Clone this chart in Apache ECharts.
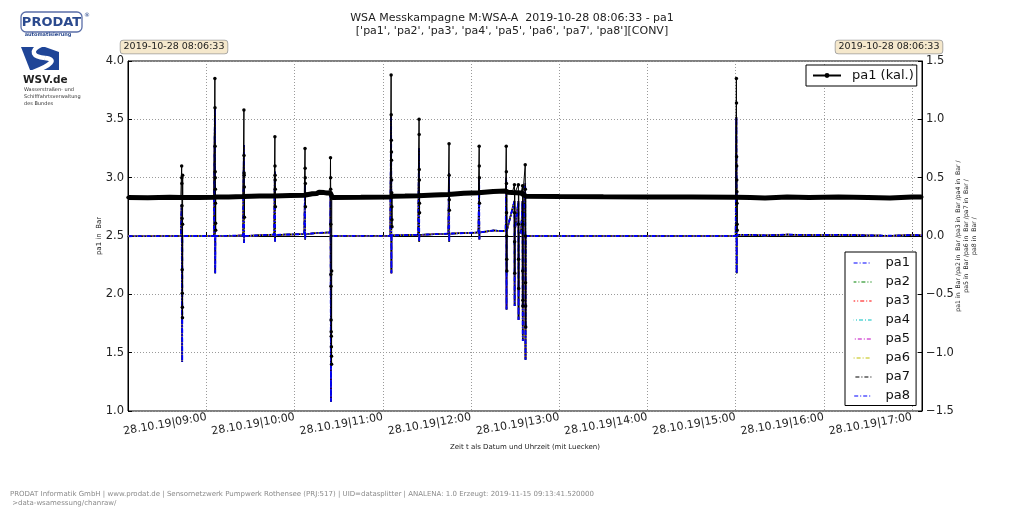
<!DOCTYPE html>
<html><head><meta charset="utf-8">
<script src="https://cdn.jsdelivr.net/npm/echarts@6/dist/echarts.min.js"></script>
<style>html,body{margin:0;padding:0;background:#fff}#c{width:1024px;height:514px}</style>
</head><body><div id="c"></div>
<script>
const DAY = '2019-10-28';
const FONT = 'DejaVu Sans';
const titleLines = ['WSA Messkampagne M:WSA-A  2019-10-28 08:06:33 - pa1', "['pa1', 'pa2', 'pa3', 'pa4', 'pa5', 'pa6', 'pa7', 'pa8'][CONV]"];
const stampText = '2019-10-28 08:06:33';
const xAxisName = 'Zeit t als Datum und Uhrzeit (mit Luecken)';
const leftAxisName = 'pa1 in  Bar';
const rightAxisName = 'pa1 in  Bar /pa2 in  Bar /pa3 in  Bar /pa4 in  Bar /\npa5 in  Bar /pa6 in  Bar /pa7 in  Bar /\npa8 in  Bar /';
const footerLines = ['PRODAT Informatik GmbH | www.prodat.de | Sensornetzwerk Pumpwerk Rothensee (PRJ:517) | UID=datasplitter | ANALENA: 1.0 Erzeugt: 2019-11-15 09:13:41.520000', ' >data-wsamessung/chanraw/'];
const xRange = ['08:06:33', '17:06:48'];
const leftTicks = [1.0, 4.0, 0.5];
const rightTicks = [-1.5, 1.5, 0.5];
const kalName = 'pa1 (kal.)';
const paNames = ['pa1', 'pa2', 'pa3', 'pa4', 'pa5', 'pa6', 'pa7', 'pa8'];
const paColors = ['#0000ff', '#008000', '#ff0000', '#00bfbf', '#bf00bf', '#bfbf00', '#000000', '#0000ff'];
const sampleStepSec = 4;

// pa1 (kal.) baseline, left axis [Bar]
const kalBase = [
  ['08:06:33', 2.83], ['08:20:00', 2.828], ['08:35:00', 2.832], ['08:42:30', 2.83],
  ['08:44:00', 2.83], ['08:55:00', 2.83], ['09:05:00', 2.832],
  ['09:06:30', 2.835], ['09:15:00', 2.835], ['09:24:50', 2.838],
  ['09:26:00', 2.84], ['09:36:00', 2.842], ['09:46:00', 2.842],
  ['09:47:10', 2.845], ['09:57:00', 2.847], ['10:06:30', 2.85],
  ['10:07:40', 2.86], ['10:12:00', 2.862], ['10:15:00', 2.865], ['10:16:30', 2.875], ['10:20:00', 2.872], ['10:22:00', 2.868], ['10:24:10', 2.87],
  ['10:25:40', 2.83], ['10:45:00', 2.832], ['11:05:00', 2.835],
  ['11:06:40', 2.84], ['11:15:00', 2.842], ['11:24:00', 2.845],
  ['11:25:20', 2.85], ['11:35:00', 2.852], ['11:44:30', 2.855],
  ['11:45:40', 2.865], ['11:55:00', 2.867], ['12:05:00', 2.87],
  ['12:06:10', 2.88], ['12:15:00', 2.882], ['12:23:30', 2.885],
  ['12:25:00', 2.875], ['12:28:00', 2.872], ['12:31:00', 2.87], ['12:34:00', 2.868],
  ['12:37:30', 2.84], ['13:00:00', 2.838], ['13:30:00', 2.836], ['14:00:00', 2.835], ['14:30:00', 2.835], ['15:00:00', 2.833],
  ['15:01:20', 2.835], ['15:10:00', 2.83], ['15:20:00', 2.825], ['15:35:00', 2.835], ['15:50:00', 2.83], ['16:10:00', 2.835],
  ['16:30:00', 2.83], ['16:45:00', 2.825], ['17:00:00', 2.835], ['17:06:40', 2.835]
];
// pa1 (kal.) spike events: [start time, samples]
const kalSpikes = [
  ['08:43:00', [2.83, 3.10, 3.0, 2.95, 2.76, 2.65, 2.21, 2.01, 1.89, 1.80, 2.6, 3.02, 2.83]],
  ['09:05:40', [3.85, 3.60, 3.27, 3.05, 3.0, 2.9, 2.78, 2.61, 2.55, 2.83]],
  ['09:25:25', [3.58, 3.19, 3.04, 3.02, 2.92, 2.66, 2.83]],
  ['09:46:30', [3.35, 3.10, 3.02, 2.98, 2.90, 2.75, 2.84]],
  ['10:07:00', [3.25, 3.08, 3.0, 2.95, 2.75, 2.85]],
  ['10:24:20', [3.17, 3.0, 2.9, 2.6, 2.17, 2.07, 1.78, 1.68, 1.64, 1.55, 1.47, 1.40, 2.2, 2.83]],
  ['11:05:35', [3.88, 3.54, 3.32, 3.22, 3.15, 2.98, 2.87, 2.75, 2.64, 2.58, 2.84]],
  ['11:24:35', [3.50, 3.37, 3.07, 2.98, 2.78, 2.70, 2.85]],
  ['11:45:00', [3.29, 3.02, 2.81, 2.72, 2.86]],
  ['12:05:30', [3.27, 3.10, 3.0, 2.78, 2.88]],
  ['12:23:55', [3.27, 3.05, 2.95, 2.7, 2.5, 2.3, 2.2, 2.88]],
  ['12:29:30', [2.94, 2.7, 2.45, 2.18, 2.87]],
  ['12:32:10', [2.94, 2.6, 2.3, 2.05, 2.87]],
  ['12:35:00', [2.93, 2.6, 2.2, 1.9, 1.95, 2.87]],
  ['12:36:50', [3.11, 2.9, 2.5, 2.1, 1.9, 1.72, 2.84]],
  ['15:00:30', [3.85, 3.64, 3.18, 3.10, 2.98, 2.88, 2.78, 2.60, 2.55, 2.83]]
];
// pa1..pa8 baseline, right axis [Bar]
const paBase = [
  ['08:06:33', -0.002], ['08:42:30', 0.0], ['08:44:00', 0.0], ['09:05:00', 0.0],
  ['09:06:30', 0.002], ['09:24:50', 0.004], ['09:26:00', 0.01], ['09:46:00', 0.012],
  ['09:47:10', 0.014], ['10:06:30', 0.016], ['10:07:40', 0.025], ['10:16:00', 0.027],
  ['10:16:30', 0.033], ['10:24:10', 0.03], ['10:25:40', 0.0], ['11:05:00', 0.002],
  ['11:06:40', 0.007], ['11:24:00', 0.01], ['11:25:20', 0.016], ['11:44:30', 0.02],
  ['11:45:40', 0.028], ['12:05:00', 0.03], ['12:06:10', 0.045], ['12:15:00', 0.047],
  ['12:23:30', 0.042], ['12:25:00', 0.035], ['12:31:00', 0.03], ['12:34:00', 0.025],
  ['12:37:30', 0.002], ['13:30:00', 0.0], ['14:30:00', 0.0], ['15:00:00', 0.0],
  ['15:01:20', 0.015], ['15:10:00', 0.01], ['15:20:00', 0.005], ['15:35:00', 0.012],
  ['15:50:00', 0.008], ['16:10:00', 0.01], ['16:30:00', 0.005], ['16:45:00', 0.002],
  ['17:00:00', 0.008], ['17:06:40', 0.006]
];
const paSpikes = [
  ['08:43:00', [0.0, 0.27, 0.1, -0.2, -0.5, -0.75, -0.9, -1.08, 0.0]],
  ['09:05:40', [1.10, 0.6, 0.2, -0.1, -0.32, 0.0]],
  ['09:25:25', [0.78, 0.3, -0.06, 0.0]],
  ['09:46:30', [0.55, 0.2, -0.05, 0.01]],
  ['10:07:00', [0.45, 0.1, -0.03, 0.015]],
  ['10:24:20', [0.35, 0.0, -0.4, -0.8, -1.1, -1.42, 0.0]],
  ['11:05:35', [1.04, 0.6, 0.1, -0.32, 0.005]],
  ['11:24:35', [0.75, 0.3, -0.05, 0.01]],
  ['11:45:00', [0.54, 0.2, -0.05, 0.02]],
  ['12:05:30', [0.5, 0.15, -0.03, 0.03]],
  ['12:23:55', [0.5, 0.1, -0.3, -0.63, 0.04]],
  ['12:29:30', [0.3, -0.2, -0.6, 0.03]],
  ['12:32:10', [0.3, -0.3, -0.72, 0.03]],
  ['12:35:00', [0.3, -0.4, -0.9, 0.02]],
  ['12:36:50', [0.45, -0.3, -0.8, -1.06, 0.0]],
  ['15:00:30', [1.02, 0.5, 0.1, -0.32, 0.01]]
];

function T(hms) { return new Date(DAY + 'T' + hms).getTime(); }
function buildSeries(base, spikes) {
  const pts = base.map(p => [T(p[0]), p[1]]);
  spikes.forEach(s => {
    const t0 = T(s[0]);
    s[1].forEach((v, i) => pts.push([t0 + i * sampleStepSec * 1000, v]));
  });
  pts.sort((a, b) => a[0] - b[0]);
  return pts;
}
const kalData = buildSeries(kalBase, kalSpikes);
const kalBandData = kalBase.map(p => [T(p[0]), p[1]]);
const paData = buildSeries(paBase, paSpikes);
function pad(n) { return (n < 10 ? '0' : '') + n; }
function fmtNum(v) { return v < 0 ? '\u2212' + Math.abs(v).toFixed(1) : v.toFixed(1); }

const chart = echarts.init(document.getElementById('c'), null, { renderer: 'canvas' });

const series = [];
paNames.forEach((n, i) => {
  series.push({
    name: n, type: 'line', yAxisIndex: 1, data: paData, symbol: 'none',
    lineStyle: { width: i === 7 ? 1.8 : 1.5, color: paColors[i], type: [4, 2, 1, 2], dashOffset: i * 1.2 },
    itemStyle: { color: paColors[i] }, animation: false, z: 2 + i
  });
});
series.push({
  name: 'kalBand', type: 'line', yAxisIndex: 0, data: kalBandData, symbol: 'none',
  lineStyle: { width: 5, color: '#000' }, silent: true, animation: false, z: 11
});
series.push({
  name: kalName, type: 'line', yAxisIndex: 0, data: kalData, symbol: 'circle', symbolSize: 3.5,
  showAllSymbol: true, lineStyle: { width: 1, color: '#000' }, itemStyle: { color: '#000' }, animation: false, z: 12
});

const stampStyle = (x) => ({
  type: 'text', x: x, y: 47, z: 100,
  style: { text: stampText, fontSize: 9.5, fontFamily: FONT, fill: '#222', align: 'center', verticalAlign: 'middle',
    backgroundColor: '#f5e8cc', borderColor: '#9a9a9a', borderWidth: 0.8, borderRadius: 3, padding: [2, 3, 1, 3] }
});

chart.setOption({
  backgroundColor: '#fff',
  animation: false,
  title: {
    text: titleLines.join('\n'), left: 'center', top: 7,
    textStyle: { fontSize: 11, fontWeight: 'normal', color: '#222', lineHeight: 12.5, fontFamily: FONT }
  },
  grid: { left: 128, right: 102, top: 61, bottom: 103, show: true, borderColor: '#000', borderWidth: 1, backgroundColor: 'transparent' },
  legend: [
    {
      data: [kalName], orient: 'vertical', left: 806, top: 65,
      backgroundColor: '#fff', borderColor: '#000', borderWidth: 1, borderRadius: 0,
      padding: [4, 3, 4, 6], itemWidth: 28, itemHeight: 6,
      textStyle: { fontSize: 13, fontFamily: FONT, color: '#111', padding: [0, 0, 0, 6] }
    },
    {
      data: paNames, orient: 'vertical', left: 845, top: 252,
      backgroundColor: '#fff', borderColor: '#000', borderWidth: 1, borderRadius: 0,
      padding: [4.5, 6, 3, 8], itemWidth: 18, itemHeight: 13, itemGap: 6,
      itemStyle: { opacity: 0 },
      lineStyle: { width: 1.2 },
      textStyle: { fontSize: 13, fontFamily: FONT, color: '#111', lineHeight: 13, padding: [0, 0, 0, 9] }
    }
  ],
  xAxis: {
    type: 'time', min: T(xRange[0]), max: T(xRange[1]),
    minInterval: 3600000, maxInterval: 3600000,
    name: xAxisName, nameLocation: 'middle', nameGap: 33,
    nameTextStyle: { fontSize: 7, color: '#222', fontFamily: FONT },
    axisLine: { show: true, lineStyle: { color: '#000', width: 1 } },
    axisTick: { show: true, inside: true, length: 4, lineStyle: { color: '#000' } },
    axisLabel: {
      rotate: 10, fontSize: 11, color: '#222', fontFamily: FONT, margin: 6,
      showMinLabel: false, showMaxLabel: false,
      formatter: function (v) {
        const d = new Date(v);
        return pad(d.getDate()) + '.' + pad(d.getMonth() + 1) + '.' + String(d.getFullYear()).slice(2) + '|' + pad(d.getHours()) + ':' + pad(d.getMinutes());
      }
    },
    splitLine: { show: true, lineStyle: { type: [1, 2], color: '#9a9a9a', width: 1 } }
  },
  yAxis: [
    {
      type: 'value', position: 'left', min: leftTicks[0], max: leftTicks[1], interval: leftTicks[2],
      name: leftAxisName, nameLocation: 'middle', nameGap: 25, nameRotate: 90, nameMoveOverlap: false,
      nameTextStyle: { fontSize: 7, color: '#222', fontFamily: FONT },
      axisLine: { show: true, lineStyle: { color: '#000', width: 1 } },
      axisTick: { show: true, inside: true, length: 4, lineStyle: { color: '#000' } },
      axisLabel: { fontSize: 11.5, color: '#222', fontFamily: FONT, margin: 4, formatter: fmtNum },
      splitLine: { show: true, lineStyle: { type: [1, 2], color: '#9a9a9a', width: 1 } }
    },
    {
      type: 'value', position: 'right', min: rightTicks[0], max: rightTicks[1], interval: rightTicks[2],
      name: rightAxisName, nameLocation: 'middle', nameGap: 32, nameRotate: 90, nameMoveOverlap: false,
      nameTextStyle: { fontSize: 6.2, color: '#222', fontFamily: FONT, lineHeight: 8, align: 'center' },
      axisLine: { show: true, lineStyle: { color: '#000', width: 1 } },
      axisTick: { show: true, inside: true, length: 4, lineStyle: { color: '#000' } },
      axisLabel: { fontSize: 11.5, color: '#222', fontFamily: FONT, margin: 4, formatter: fmtNum },
      splitLine: { show: false }
    }
  ],
  series: series,
  graphic: [
    stampStyle(174), stampStyle(889),
    // PRODAT logo
    { type: 'rect', shape: { x: 21, y: 12, width: 61, height: 20, r: 5 }, style: { fill: '#fff', stroke: '#5a6ea8', lineWidth: 1.3 } },
    { type: 'text', x: 51.5, y: 22.5, style: { text: 'PRODAT', fontSize: 13, fontWeight: 'bold', fontFamily: FONT, fill: '#2b4a8e', align: 'center', verticalAlign: 'middle' } },
    { type: 'text', x: 84, y: 15, style: { text: '\u00ae', fontSize: 6, fontFamily: FONT, fill: '#2b4a8e', align: 'left', verticalAlign: 'middle' } },
    { type: 'text', x: 48, y: 34.5, style: { text: 'automatisierung', fontSize: 5, fontWeight: 'bold', fontFamily: FONT, fill: '#2b4a8e', align: 'center', verticalAlign: 'middle' } },
    // WSV logo
    { type: 'polygon', shape: { points: [[21, 47], [45, 47], [59, 52], [59, 70], [30, 70]] }, style: { fill: '#1f4597' } },
    { type: 'bezierCurve', shape: { x1: 41, y1: 45, cpx1: 29, cpy1: 51, cpx2: 33, cpy2: 57, x2: 45, y2: 58 }, style: { fill: 'none', stroke: '#fff', lineWidth: 4.5 } },
    { type: 'bezierCurve', shape: { x1: 45, y1: 58, cpx1: 57, cpy1: 59, cpx2: 52, cpy2: 65, x2: 33, y2: 72 }, style: { fill: 'none', stroke: '#fff', lineWidth: 4.5 } },
    { type: 'text', x: 23, y: 80, style: { text: 'WSV.de', fontSize: 10.5, fontWeight: 'bold', fontFamily: FONT, fill: '#222', align: 'left', verticalAlign: 'middle' } },
    { type: 'text', x: 24, y: 86, style: { text: 'Wasserstraßen- und\nSchifffahrtsverwaltung\ndes Bundes', fontSize: 5, lineHeight: 7, fontFamily: FONT, fill: '#333', align: 'left', verticalAlign: 'top' } },
    // footer
    { type: 'text', x: 10, y: 490, style: { text: footerLines.join('\n'), fontSize: 7, lineHeight: 9, fontFamily: FONT, fill: '#8a8a8a', align: 'left', verticalAlign: 'top' } }
  ]
});
</script>
</body></html>
